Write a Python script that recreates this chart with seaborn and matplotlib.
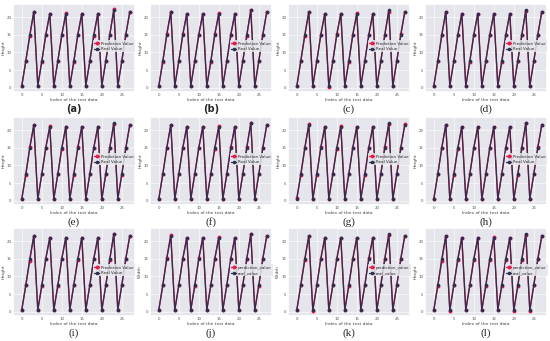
import numpy as np
import pandas as pd
import seaborn as sns
import matplotlib.pyplot as plt

# =========================================================
#  Data
# =========================================================
index = list(range(28))

real_value = [0.5, 7.5, 15.0, 21.5, 0.5, 7.5, 15.0, 21.0, 0.5, 7.5, 15.0, 21.0, 0.5, 7.5,
              15.0, 21.0, 0.5, 7.5, 15.0, 21.0, 0.5, 7.5, 15.0, 22.0, 0.5, 7.5, 15.0, 21.5]

pred_a = [0.6, 7.6, 14.6, 21.5, 0.6, 7.4, 15.0, 21.0, 0.4, 7.5, 14.8, 21.1, 0.5, 7.2,
          15.0, 21.0, 0.6, 7.5, 14.7, 21.0, 0.5, 7.6, 15.0, 22.2, 0.4, 7.5, 15.0, 21.5]
pred_b = [0.5, 7.4, 15.2, 21.4, 0.6, 7.5, 15.1, 21.0, 0.5, 7.7, 15.0, 21.0, 0.5, 7.3,
          15.2, 21.1, 0.5, 7.5, 15.0, 20.8, 0.6, 7.6, 14.6, 22.0, 0.4, 7.5, 15.0, 21.5]
pred_c = [0.4, 7.7, 14.7, 21.5, 0.6, 7.6, 15.0, 20.9, 0.3, 7.5, 15.2, 21.0, 0.5, 7.3,
          15.0, 21.1, 0.5, 7.5, 14.8, 21.0, 0.4, 7.5, 15.0, 21.5, 0.5, 7.6, 15.1, 21.4]
pred_d = [0.5, 7.5, 14.9, 21.5, 0.6, 7.5, 14.8, 21.0, 0.5, 7.4, 15.0, 21.0, 0.5, 7.5,
          15.0, 21.0, 0.6, 7.4, 14.9, 21.0, 0.5, 7.6, 14.8, 21.8, 0.5, 7.5, 15.0, 21.5]
pred_e = [0.6, 7.3, 15.2, 21.3, 0.4, 7.6, 15.0, 21.1, 0.5, 7.5, 14.7, 21.0, 0.6, 7.4,
          15.1, 20.9, 0.5, 7.5, 15.0, 21.0, 0.4, 7.7, 15.0, 21.8, 0.6, 7.4, 14.8, 21.5]
pred_f = [0.5, 7.6, 15.0, 21.5, 0.5, 7.6, 15.0, 21.0, 0.6, 7.7, 15.0, 21.0, 0.5, 7.5,
          14.7, 21.2, 0.5, 7.5, 15.1, 21.0, 0.5, 7.5, 15.2, 22.0, 0.5, 7.5, 15.0, 21.5]
pred_g = [0.7, 7.2, 14.8, 21.6, 0.5, 7.4, 15.1, 21.0, 0.6, 7.6, 14.7, 21.2, 0.4, 7.5,
          15.0, 21.0, 0.6, 7.3, 14.9, 21.0, 0.6, 7.5, 15.3, 21.7, 0.5, 7.6, 14.9, 21.6]
pred_h = [0.5, 7.5, 15.0, 21.5, 0.5, 7.3, 14.6, 21.0, 0.5, 7.5, 15.0, 21.0, 0.4, 7.5,
          15.0, 20.8, 0.5, 7.6, 15.0, 21.0, 0.5, 7.4, 15.0, 22.0, 0.6, 7.5, 15.2, 21.4]
pred_i = [0.6, 7.5, 14.5, 21.5, 0.5, 7.2, 15.0, 21.0, 0.5, 7.2, 15.0, 21.0, 0.5, 7.6,
          14.6, 21.0, 0.5, 7.5, 15.0, 21.0, 0.4, 7.5, 14.7, 22.0, 0.5, 7.5, 15.0, 21.5]
pred_j = [0.5, 7.5, 15.3, 21.8, 0.5, 7.5, 15.0, 21.0, 0.6, 7.4, 15.1, 21.0, 0.5, 7.5,
          15.0, 21.2, 0.5, 7.5, 15.0, 21.0, 0.5, 7.6, 15.0, 22.0, 0.5, 7.4, 15.0, 21.5]
pred_k = [0.5, 7.6, 14.6, 21.5, 0.3, 7.5, 15.0, 21.0, 0.5, 7.5, 15.0, 21.0, 0.5, 7.3,
          15.0, 21.0, 0.6, 7.5, 15.1, 21.0, 0.5, 7.5, 15.0, 21.8, 0.4, 7.5, 15.0, 21.5]
pred_l = [0.5, 7.3, 14.3, 21.5, 0.3, 7.5, 14.6, 21.0, 0.4, 7.5, 14.6, 21.0, 0.4, 7.3,
          14.7, 21.2, 0.5, 7.4, 14.7, 21.0, 0.3, 7.2, 14.6, 21.8, 0.3, 7.5, 14.8, 21.3]

predictions = [pred_a, pred_b, pred_c, pred_d, pred_e, pred_f,
               pred_g, pred_h, pred_i, pred_j, pred_k, pred_l]
panel_labels = ['(a)', '(b)', '(c)', '(d)', '(e)', '(f)',
                '(g)', '(h)', '(i)', '(j)', '(k)', '(l)']
y_labels = ['Height'] * 9 + ['Width', 'Width', 'Height']
legend_names = [('Prediction Value', 'Real Value')] * 9 + \
               [('prediction_value', 'real_value')] * 3
x_ticks = [0, 5, 10, 15, 20, 25]
y_ticks = [0, 5, 10, 15, 20]

# =========================================================
#  Figure
# =========================================================
sns.set_theme(style="darkgrid")
W, H = 550, 341
fig = plt.figure(figsize=(W / 100, H / 100), dpi=100)
fig.patch.set_facecolor('white')

col_left = [13, 150, 288, 425]
row_top = [4, 117, 228]
ax_w, ax_h = 122, 88
label_y = [109, 222, 333]

for k in range(12):
    r, c = divmod(k, 4)
    ax = fig.add_axes([col_left[c] / W, 1 - (row_top[r] + ax_h) / H, ax_w / W, ax_h / H])
    ax.set_facecolor('#e5e5ec')
    p_name, r_name = legend_names[k]
    df = pd.DataFrame({'idx': index, 'pred': predictions[k], 'real': real_value})

    sns.lineplot(data=df, x='idx', y='pred', ax=ax, color='#e8194d', lw=1.0,
                 marker='o', markersize=2.8, markeredgewidth=0, label=p_name)
    sns.lineplot(data=df, x='idx', y='real', ax=ax, color='#2e2e4e', lw=0.9,
                 marker='o', markersize=2.6, markeredgewidth=0, label=r_name)

    ax.set_xlim(-2.2, 28.3)
    ax.set_ylim(-1.2, 23.7)
    ax.set_xticks(x_ticks)
    ax.set_yticks(y_ticks)
    ax.tick_params(labelsize=2.8, pad=1, length=0, colors='#555555')
    ax.grid(color='white', lw=0.4)
    ax.set_xlabel('Index of the test data', fontsize=3.2, labelpad=0.5, color='#444444')
    ax.set_ylabel(y_labels[k], fontsize=3.2, labelpad=1, color='#444444')

    ax.legend(loc='center left', bbox_to_anchor=(0.64, 0.52), fontsize=2.9,
              frameon=True, framealpha=0.85, edgecolor='none',
              facecolor='#e5e5ec', handlelength=1.2, borderpad=0.3,
              labelspacing=0.35, handletextpad=0.4)

    if k < 2:
        fig.text((col_left[c] + ax_w / 2) / W, 1 - label_y[r] / H, panel_labels[k],
                 ha='center', va='center', fontsize=7, fontweight='bold',
                 family='DejaVu Sans')
    else:
        fig.text((col_left[c] + ax_w / 2) / W, 1 - label_y[r] / H, panel_labels[k],
                 ha='center', va='center', fontsize=8, family='Liberation Serif')

fig.savefig('out.png', dpi=100, facecolor='white')
